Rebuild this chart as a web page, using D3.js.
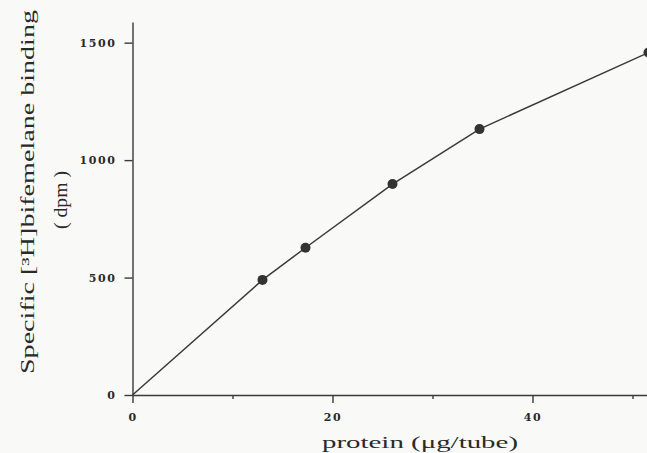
<!DOCTYPE html>
<html>
<head>
<meta charset="utf-8">
<script src="https://cdn.jsdelivr.net/npm/d3@7"></script>
<style>
  html, body { margin: 0; padding: 0; background: #f9f9f7; }
  svg { display: block; }
</style>
</head>
<body>
<svg id="chart" width="647" height="453"></svg>
<script>
// Protein amount per tube and specific binding measured at each amount
const protein = [13, 17.3, 26, 34.7, 51.6];
const binding = [490, 627, 898, 1132, 1458];
const xMajorTicks = [0, 20, 40];
const xMinorTicks = [10, 30, 50];
const yTicks = [0, 500, 1000, 1500];

const svg = d3.select("#chart");
const ink = "#3a3a3a";

const x = d3.scaleLinear().domain([0, 53]).range([132.5, 662.5]);
const y = d3.scaleLinear().domain([0, 1588]).range([395, 22]);

// X axis: labelled major ticks plus short minor ticks
svg.append("g").attr("transform", `translate(0,${y(0)})`)
  .call(d3.axisBottom(x).tickValues(xMajorTicks).tickFormat(d3.format("d"))
    .tickSize(8).tickPadding(10).tickSizeOuter(0));
svg.append("g").attr("transform", `translate(0,${y(0)})`)
  .call(d3.axisBottom(x).tickValues(xMinorTicks).tickSize(4).tickFormat("").tickSizeOuter(0))
  .select(".domain").remove();

// Y axis
svg.append("g").attr("transform", `translate(${x(0)},0)`)
  .call(d3.axisLeft(y).tickValues(yTicks).tickFormat(d3.format("d"))
    .tickSize(8).tickPadding(8).tickSizeOuter(0));

svg.selectAll(".domain, .tick line").attr("stroke", ink).attr("stroke-width", 1.4);
svg.selectAll(".tick text")
  .attr("fill", "#2a2a2a")
  .style("font-family", "'DejaVu Serif', serif")
  .style("font-weight", "bold")
  .style("font-size", "11px")
  .style("letter-spacing", "1.6px");

// Binding curve from the origin through every measurement
const pts = [[0, 0]].concat(protein.map((p, i) => [p, binding[i]]));
svg.append("path")
  .datum(pts)
  .attr("fill", "none")
  .attr("stroke", ink)
  .attr("stroke-width", 1.5)
  .attr("d", d3.line().x(d => x(d[0])).y(d => y(d[1])));

svg.append("g").selectAll("circle")
  .data(protein.map((p, i) => [p, binding[i]]))
  .join("circle")
  .attr("cx", d => x(d[0]))
  .attr("cy", d => y(d[1]))
  .attr("r", 5)
  .attr("fill", "#333");

// Axis titles
svg.append("text")
  .attr("x", 420).attr("y", 448)
  .attr("text-anchor", "middle")
  .attr("textLength", 196).attr("lengthAdjust", "spacingAndGlyphs")
  .style("font-family", "'Liberation Serif', serif")
  .style("font-size", "16px")
  .attr("fill", "#2a2a2a")
  .text("protein (μg/tube)");

svg.append("text")
  .attr("transform", "translate(34,192) rotate(-90)")
  .attr("text-anchor", "middle")
  .attr("textLength", 364).attr("lengthAdjust", "spacingAndGlyphs")
  .style("font-family", "'Liberation Serif', serif")
  .style("font-size", "18px")
  .attr("fill", "#2a2a2a")
  .text("Specific [³H]bifemelane binding");

svg.append("text")
  .attr("transform", "translate(67,200) rotate(-90)")
  .attr("text-anchor", "middle")
  .attr("textLength", 58).attr("lengthAdjust", "spacingAndGlyphs")
  .style("font-family", "'Liberation Serif', serif")
  .style("font-size", "18px")
  .attr("fill", "#2a2a2a")
  .text("( dpm )");
</script>
</body>
</html>
